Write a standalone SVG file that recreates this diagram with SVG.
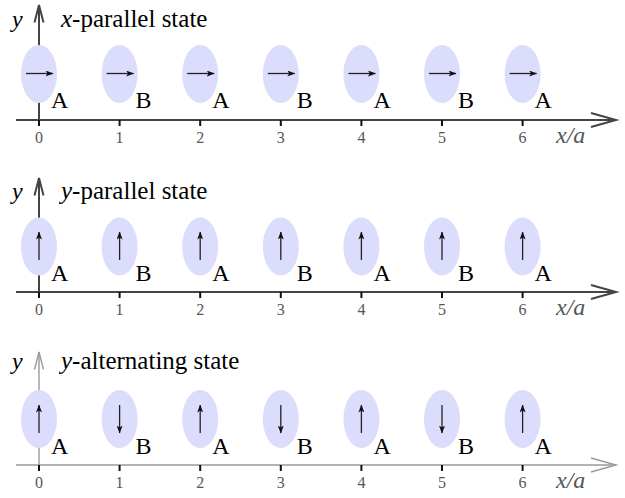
<svg xmlns="http://www.w3.org/2000/svg" width="625" height="498" viewBox="0 0 625 498">
<defs>
<marker id="spin" viewBox="0 0 8 6" refX="7.5" refY="3" markerWidth="8" markerHeight="6" markerUnits="userSpaceOnUse" orient="auto">
<path d="M0,0 L8,3 L0,6 L2,3 Z" fill="#111"/>
</marker>
</defs>
<style>
.site{fill:#dcdcfc;stroke:none}
.spin{stroke:#222;stroke-width:1.3;fill:none;marker-end:url(#spin)}
.ax{stroke:#444;stroke-width:2;fill:none}
.ax3{stroke:#9a9a9a;stroke-width:1.4;fill:none}
.tick{stroke:#111;stroke-width:2}
text{font-family:'Liberation Serif','DejaVu Serif',serif}
.lbl{font-size:24px;fill:#000}
.ttl{font-size:25px;fill:#000}
.num{font-size:16px;fill:#555;text-anchor:middle}
.it{font-size:24px;font-style:italic}
.xa{fill:#555}
</style>
<rect width="625" height="498" fill="#fff"/>

<g id="connectors">
<g id="axes1">
<line class="ax" x1="39" y1="121" x2="39" y2="5"/>
<polyline class="ax" points="34.5,22.5 39,5 43.5,22.5"/>
<line class="ax" x1="16" y1="120" x2="616" y2="120"/>
<polyline class="ax" points="591,113 616,120 591,127"/>
</g>
<g id="axes2">
<line class="ax" x1="39" y1="293" x2="39" y2="178"/>
<polyline class="ax" points="34.5,195.5 39,178 43.5,195.5"/>
<line class="ax" x1="16" y1="292" x2="616" y2="292"/>
<polyline class="ax" points="591,285 616,292 591,299"/>
</g>
<g id="axes3">
<line class="ax3" x1="39" y1="466" x2="39" y2="352"/>
<polyline class="ax3" points="34.5,369.5 39,352 43.5,369.5"/>
<line class="ax3" x1="16" y1="465" x2="616" y2="465"/>
<polyline class="ax3" points="591,458 616,465 591,472"/>
</g>
</g>

<g id="titles">
<text class="it" x="12" y="27">y</text>
<text class="ttl" x="61" y="27"><tspan font-style="italic">x</tspan>-parallel state</text>
<text class="it" x="12" y="199">y</text>
<text class="ttl" x="61" y="199"><tspan font-style="italic">y</tspan>-parallel state</text>
<text class="it" x="12" y="369">y</text>
<text class="ttl" x="61" y="369"><tspan font-style="italic">y</tspan>-alternating state</text>
<text class="it xa" x="556" y="143">x/a</text>
<text class="it xa" x="556" y="315">x/a</text>
<text class="it xa" x="556" y="488">x/a</text>
</g>

<g id="ticks">
<path class="tick" d="M39,120v6M119.6,120v6M200.2,120v6M280.8,120v6M361.4,120v6M442,120v6M522.6,120v6"/>
<path class="tick" d="M39,292v6M119.6,292v6M200.2,292v6M280.8,292v6M361.4,292v6M442,292v6M522.6,292v6"/>
<path class="tick" d="M39,465v6M119.6,465v6M200.2,465v6M280.8,465v6M361.4,465v6M442,465v6M522.6,465v6"/>
<g class="num">
<text x="39" y="143">0</text><text x="119.6" y="143">1</text><text x="200.2" y="143">2</text><text x="280.8" y="143">3</text><text x="361.4" y="143">4</text><text x="442" y="143">5</text><text x="522.6" y="143">6</text>
<text x="39" y="315">0</text><text x="119.6" y="315">1</text><text x="200.2" y="315">2</text><text x="280.8" y="315">3</text><text x="361.4" y="315">4</text><text x="442" y="315">5</text><text x="522.6" y="315">6</text>
<text x="39" y="488">0</text><text x="119.6" y="488">1</text><text x="200.2" y="488">2</text><text x="280.8" y="488">3</text><text x="361.4" y="488">4</text><text x="442" y="488">5</text><text x="522.6" y="488">6</text>
</g>
</g>

<g id="p1s0"><ellipse class="site" cx="39" cy="74" rx="18" ry="29"/><line class="spin" x1="26" y1="73.5" x2="53" y2="73.5"/><text class="lbl" x="51" y="108">A</text></g>
<g id="p1s1"><ellipse class="site" cx="119.6" cy="74" rx="18" ry="29"/><line class="spin" x1="106.6" y1="73.5" x2="133.6" y2="73.5"/><text class="lbl" x="135.6" y="108">B</text></g>
<g id="p1s2"><ellipse class="site" cx="200.2" cy="74" rx="18" ry="29"/><line class="spin" x1="187.2" y1="73.5" x2="214.2" y2="73.5"/><text class="lbl" x="212.2" y="108">A</text></g>
<g id="p1s3"><ellipse class="site" cx="280.8" cy="74" rx="18" ry="29"/><line class="spin" x1="267.8" y1="73.5" x2="294.8" y2="73.5"/><text class="lbl" x="296.8" y="108">B</text></g>
<g id="p1s4"><ellipse class="site" cx="361.4" cy="74" rx="18" ry="29"/><line class="spin" x1="348.4" y1="73.5" x2="375.4" y2="73.5"/><text class="lbl" x="373.4" y="108">A</text></g>
<g id="p1s5"><ellipse class="site" cx="442" cy="74" rx="18" ry="29"/><line class="spin" x1="429" y1="73.5" x2="456" y2="73.5"/><text class="lbl" x="458" y="108">B</text></g>
<g id="p1s6"><ellipse class="site" cx="522.6" cy="74" rx="18" ry="29"/><line class="spin" x1="509.6" y1="73.5" x2="536.6" y2="73.5"/><text class="lbl" x="534.6" y="108">A</text></g>

<g id="p2s0"><ellipse class="site" cx="39" cy="246.5" rx="18" ry="29"/><line class="spin" x1="39" y1="260" x2="39" y2="232"/><text class="lbl" x="51" y="281">A</text></g>
<g id="p2s1"><ellipse class="site" cx="119.6" cy="246.5" rx="18" ry="29"/><line class="spin" x1="119.6" y1="260" x2="119.6" y2="232"/><text class="lbl" x="135.6" y="281">B</text></g>
<g id="p2s2"><ellipse class="site" cx="200.2" cy="246.5" rx="18" ry="29"/><line class="spin" x1="200.2" y1="260" x2="200.2" y2="232"/><text class="lbl" x="212.2" y="281">A</text></g>
<g id="p2s3"><ellipse class="site" cx="280.8" cy="246.5" rx="18" ry="29"/><line class="spin" x1="280.8" y1="260" x2="280.8" y2="232"/><text class="lbl" x="296.8" y="281">B</text></g>
<g id="p2s4"><ellipse class="site" cx="361.4" cy="246.5" rx="18" ry="29"/><line class="spin" x1="361.4" y1="260" x2="361.4" y2="232"/><text class="lbl" x="373.4" y="281">A</text></g>
<g id="p2s5"><ellipse class="site" cx="442" cy="246.5" rx="18" ry="29"/><line class="spin" x1="442" y1="260" x2="442" y2="232"/><text class="lbl" x="458" y="281">B</text></g>
<g id="p2s6"><ellipse class="site" cx="522.6" cy="246.5" rx="18" ry="29"/><line class="spin" x1="522.6" y1="260" x2="522.6" y2="232"/><text class="lbl" x="534.6" y="281">A</text></g>

<g id="p3s0"><ellipse class="site" cx="39" cy="419" rx="18" ry="29"/><line class="spin" x1="39" y1="433" x2="39" y2="405"/><text class="lbl" x="51" y="454">A</text></g>
<g id="p3s1"><ellipse class="site" cx="119.6" cy="419" rx="18" ry="29"/><line class="spin" x1="119.6" y1="405" x2="119.6" y2="433"/><text class="lbl" x="135.6" y="454">B</text></g>
<g id="p3s2"><ellipse class="site" cx="200.2" cy="419" rx="18" ry="29"/><line class="spin" x1="200.2" y1="433" x2="200.2" y2="405"/><text class="lbl" x="212.2" y="454">A</text></g>
<g id="p3s3"><ellipse class="site" cx="280.8" cy="419" rx="18" ry="29"/><line class="spin" x1="280.8" y1="405" x2="280.8" y2="433"/><text class="lbl" x="296.8" y="454">B</text></g>
<g id="p3s4"><ellipse class="site" cx="361.4" cy="419" rx="18" ry="29"/><line class="spin" x1="361.4" y1="433" x2="361.4" y2="405"/><text class="lbl" x="373.4" y="454">A</text></g>
<g id="p3s5"><ellipse class="site" cx="442" cy="419" rx="18" ry="29"/><line class="spin" x1="442" y1="405" x2="442" y2="433"/><text class="lbl" x="458" y="454">B</text></g>
<g id="p3s6"><ellipse class="site" cx="522.6" cy="419" rx="18" ry="29"/><line class="spin" x1="522.6" y1="433" x2="522.6" y2="405"/><text class="lbl" x="534.6" y="454">A</text></g>
</svg>
